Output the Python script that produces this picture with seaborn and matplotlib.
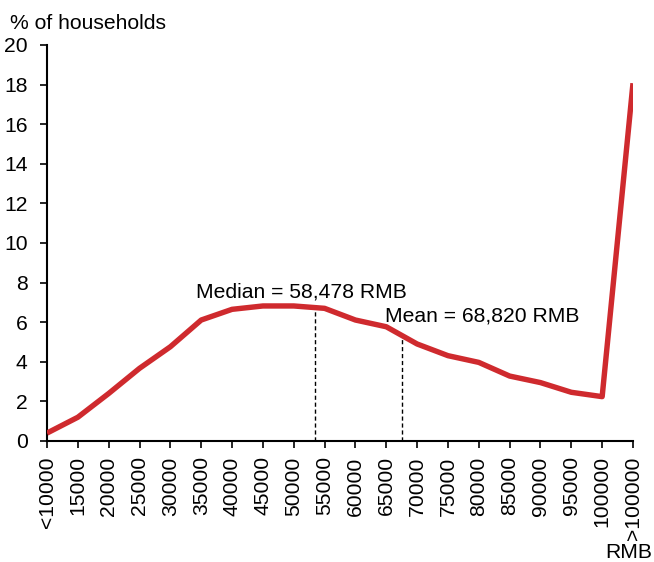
import numpy as np
import pandas as pd
import matplotlib
matplotlib.use("Agg")
import matplotlib.pyplot as plt
import seaborn as sns

# Household income brackets (RMB) and share of households in each (%)
brackets = ["<10000", "15000", "20000", "25000", "30000", "35000", "40000",
            "45000", "50000", "55000", "60000", "65000", "70000", "75000",
            "80000", "85000", "90000", "95000", "100000", ">100000"]
share = [0.4, 1.2, 2.4, 3.67, 4.76, 6.11, 6.65, 6.82, 6.82, 6.70,
         6.11, 5.77, 4.9, 4.31, 3.97, 3.28, 2.95, 2.46, 2.24, 18.07]

y_ticks = [0, 2, 4, 6, 8, 10, 12, 14, 16, 18, 20]

# Summary statistics and where they sit along the bracket axis
median_label = "Median = 58,478 RMB"
mean_label = "Mean = 68,820 RMB"
median_pos = 8.69
mean_pos = 11.51

sns.set_style("ticks")
plt.rcParams["font.family"] = ["Liberation Sans", "DejaVu Sans"]
plt.rcParams["text.color"] = "black"
plt.rcParams["xtick.color"] = "black"
plt.rcParams["ytick.color"] = "black"
plt.rcParams["xtick.labelcolor"] = "black"
plt.rcParams["ytick.labelcolor"] = "black"

df = pd.DataFrame({"idx": np.arange(len(brackets)), "share": share})

W, H = 654, 562
fs = 15.2

fig = plt.figure(figsize=(W / 100, H / 100), dpi=100)
ax = fig.add_axes([47 / W, 121 / H, 586 / W, 396 / H])

line_color = "#CF2A2E"
sns.lineplot(data=df, x="idx", y="share", ax=ax, color=line_color,
             linewidth=3.9, zorder=3, solid_joinstyle="round",
             solid_capstyle="butt")

# Dashed markers for the median and the mean, up to the curve
for pos in (median_pos, mean_pos):
    top = np.interp(pos, df["idx"], df["share"])
    ax.plot([pos, pos], [0, top], color="black", linestyle=(0, (3, 2)),
            linewidth=1.0, zorder=2)

ax.annotate(median_label, xy=(301, H - 297), xycoords="figure pixels",
            fontsize=fs, ha="center", va="baseline", color="black")
ax.annotate(mean_label, xy=(482, H - 322), xycoords="figure pixels",
            fontsize=fs, ha="center", va="baseline", color="black")

ax.set_xlim(0, len(brackets) - 1)
ax.set_ylim(0, 20)
ax.set_xticks(df["idx"])
ax.set_xticklabels(brackets, rotation=90, fontsize=fs)
ax.set_yticks(y_ticks)
ax.set_yticklabels([str(v) for v in y_ticks], fontsize=fs)
ax.set_xlabel("")
ax.set_ylabel("")

ax.tick_params(axis="y", length=5, width=1.2, pad=9, color="black")
ax.tick_params(axis="x", length=5, width=1.2, pad=6, color="black")
for side in ("top", "right"):
    ax.spines[side].set_visible(False)
for side in ("left", "bottom"):
    ax.spines[side].set_linewidth(1.5)
    ax.spines[side].set_color("black")

fig.text(10 / W, 1 - 29 / H, "% of households", fontsize=fs,
         ha="left", va="baseline", color="black")
fig.text(652 / W, 1 - 558 / H, "RMB", fontsize=fs,
         ha="right", va="baseline", color="black")

fig.savefig("out.png", dpi=100)
